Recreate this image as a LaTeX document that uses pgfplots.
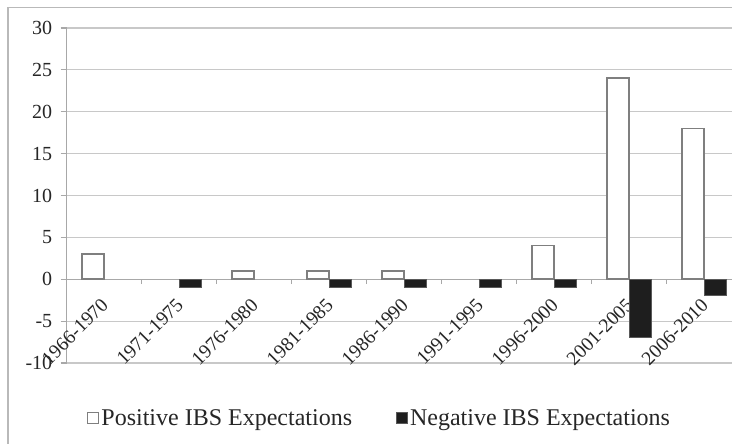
\documentclass[border=0pt]{standalone}
\usepackage{fontspec}
\setmainfont{Liberation Serif}
\usepackage{pgfplots}
\pgfplotsset{compat=1.18}
\definecolor{gridgray}{HTML}{C8C8C8}
\definecolor{axisgray}{HTML}{A8A8A8}
\definecolor{bargray}{HTML}{7F7F7F}
\definecolor{negfill}{HTML}{1E1E1E}
\definecolor{txt}{HTML}{262626}

\begin{document}
\begin{tikzpicture}
\useasboundingbox (0pt,0pt) rectangle (732pt,444pt);
% outer chart frame (cut off at right and bottom)
\draw[axisgray!80, line width=1.3pt] (8pt,-5pt) -- (8pt,436.5pt) -- (740pt,436.5pt);
\begin{axis}[
    at={(66.7pt,81pt)}, anchor=south west,
    scale only axis, width=675pt, height=335pt,
    xmin=-0.5, xmax=8.5, ymin=-10, ymax=30,
    axis x line=middle, axis y line=left,
    axis line style={-, axisgray, line width=1.2pt},
    tick align=outside,
    ybar, bar width=22pt,
    xtick={0,...,8},
    xticklabels={1966-1970,1971-1975,1976-1980,1981-1985,1986-1990,1991-1995,1996-2000,2001-2005,2006-2010},
    minor xtick={0.5,1.5,...,7.5},
    major x tick style={draw=none},
    minor tick length=5pt,
    major tick length=6pt,
    every tick/.style={axisgray, line width=1.2pt},
    ytick={-10,-5,0,5,10,15,20,25,30},
    yticklabels={-10,-5,0,5,10,15,20,25,30},
    ymajorgrids,
    major grid style={gridgray, line width=1.2pt},
    yticklabel style={font=\fontsize{20}{20}\selectfont, text=txt, xshift=-5pt},
    xticklabel style={font=\fontsize{19.5}{19.5}\selectfont, text=txt,
        xshift=3pt, yshift=-14pt, rotate=45, anchor=east},
    legend style={at={(0.4634,-0.164)}, anchor=center, draw=none, fill=none,
        font=\fontsize{24}{24}\selectfont, text=txt,
        /tikz/every even column/.append style={column sep=42pt}},
    legend columns=2,
    legend image code/.code={\draw[#1] (-6pt,-5.5pt) rectangle (5pt,5.5pt);},
]
\addplot[fill=white, draw=bargray, line width=1.5pt, bar shift=-11pt]
    coordinates {(0,3) (2,1) (3,1) (4,1) (6,4) (7,24) (8,18)};
\addplot[fill=negfill, draw=bargray!70!black, line width=1pt, bar shift=11pt]
    coordinates {(1,-1) (3,-1) (4,-1) (5,-1) (6,-1) (7,-7) (8,-2)};
\legend{Positive IBS Expectations, Negative IBS Expectations}
\end{axis}
\end{tikzpicture}
\end{document}
